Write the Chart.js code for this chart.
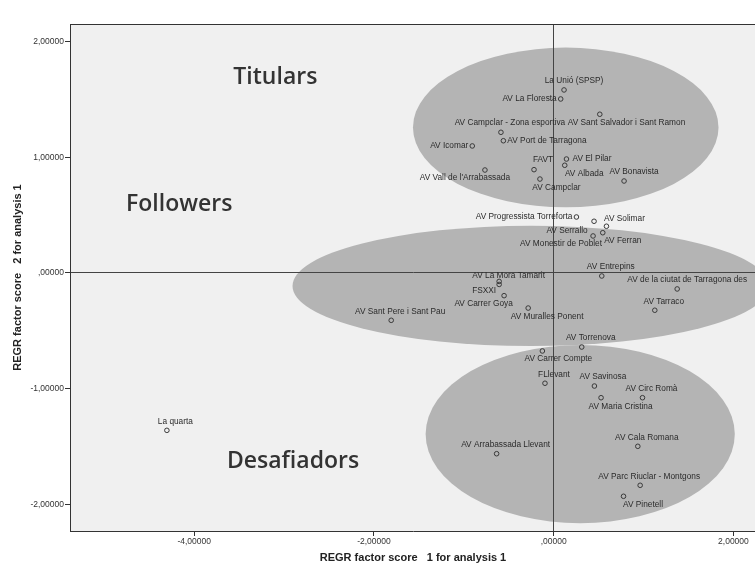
<!DOCTYPE html>
<html>
<head>
<meta charset="utf-8">
<script src="https://cdn.jsdelivr.net/npm/chart.js@4.4.0/dist/chart.umd.min.js"></script>
<style>
  html, body { margin: 0; padding: 0; background: #fff; overflow: hidden; }
  #wrap { width: 755px; height: 565px; overflow: hidden; }
</style>
</head>
<body>
<!-- canvas is a little wider than the window: the plot frame runs off the right edge, as in the original -->
<div id="wrap"><canvas id="scatterChart" width="761" height="565"></canvas></div>
<script>
// associations (point labels)
const names = [
    'La Unió (SPSP)', 'AV La Floresta', 'AV Sant Salvador i Sant Ramon', 'AV Campclar - Zona esportiva',
    'AV Port de Tarragona', 'AV Icomar', "AV Vall de l'Arrabassada", 'FAVT', 'AV El Pilar', 'AV Albada',
    'AV Campclar', 'AV Bonavista', 'AV Progressista Torreforta', 'AV Serrallo', 'AV Solimar', 'AV Ferran',
    'AV Monestir de Poblet', 'AV Entrepins', 'AV de la ciutat de Tarragona des', 'AV Tarraco',
    'AV La Mora Tamarit', 'FSXXI', 'AV Carrer Goya', 'AV Muralles Ponent', 'AV Sant Pere i Sant Pau',
    'AV Torrenova', 'AV Carrer Compte', 'FLlevant', 'AV Savinosa', 'AV Circ Romà', 'AV Maria Cristina',
    'AV Cala Romana', 'AV Arrabassada Llevant', 'AV Parc Riuclar - Montgons', 'AV Pinetell', 'La quarta'
];

// REGR factor score 1 for analysis 1
const score1 = [
    0.115, 0.078, 0.513, -0.587, -0.560, -0.906, -0.765, -0.219, 0.142, 0.123,
    -0.153, 0.783, 0.253, 0.449, 0.587, 0.546, 0.438, 0.535, 1.374, 1.125,
    -0.607, -0.607, -0.552, -0.284, -1.808, 0.312, -0.126, -0.097, 0.453, 0.988,
    0.527, 0.936, -0.635, 0.962, 0.777, -4.304
];

// REGR factor score 2 for analysis 1
const score2 = [
    1.582, 1.504, 1.372, 1.216, 1.143, 1.098, 0.890, 0.893, 0.985, 0.931,
    0.812, 0.795, 0.484, 0.447, 0.404, 0.348, 0.320, -0.026, -0.138, -0.322,
    -0.073, -0.099, -0.196, -0.303, -0.409, -0.640, -0.674, -0.953, -0.977, -1.078,
    -1.078, -1.498, -1.562, -1.835, -1.930, -1.360
];

const xTicks = [-4, -2, 0, 2];
const yTicks = [-2, -1, 0, 1, 2];

// group ellipses, in factor score units
const groupNames = ['Titulars', 'Followers', 'Desafiadors'];
const ellipseCx = [0.134, -0.256, 0.295];
const ellipseCy = [1.258, -0.112, -1.392];
const ellipseRx = [1.70, 2.65, 1.72];
const ellipseRy = [0.69, 0.52, 0.77];
const groupTitleX = [-3.097, -4.167, -2.900];
const groupTitleY = [1.694, 0.596, -1.631];

// label placement next to each marker: align, pixel offsets
const labelAlign = [
    'center', 'right', 'left', 'center', 'left', 'right', 'center', 'center', 'left', 'center',
    'center', 'center', 'right', 'center', 'center', 'center', 'center', 'center', 'center', 'center',
    'center', 'right', 'center', 'center', 'center', 'center', 'center', 'center', 'center', 'center',
    'center', 'center', 'center', 'center', 'center', 'center'
];
const labelDx = [
    10, -4, -32, 9, 4, -4, -20, 9, 6, 19.5,
    16.5, 10, -4, -27, 18, 20, -32, 9, 10, 9,
    9.5, -3, -20.5, 19, 9, 9, 16, 9, 8.5, 9,
    19.5, 9, 9, 9, 19.5, 8.5
];
const labelDy = [
    -9, 0, 8, -10, 0, 0, 8, -10, 0, 8,
    9, -9, 0, 9, -8, 8, 8, -9, -9, -9,
    -6, 6.5, 8, 9, -9, -9, 8, -9, -9, -9,
    8.5, -9, -9, -9, 8, -9
];

function formatScore(v) {
    if (Math.abs(v) < 1e-9) return ',00000';
    return v.toFixed(5).replace('.', ',');
}

const framePlugin = {
    id: 'frame',
    beforeDraw(chart) {
        const { ctx, chartArea: a, scales: { x, y } } = chart;
        ctx.save();
        ctx.fillStyle = '#f0f0f0';
        ctx.fillRect(a.left, a.top, a.right - a.left, a.bottom - a.top);
        ctx.beginPath();
        ctx.rect(a.left, a.top, a.right - a.left, a.bottom - a.top);
        ctx.clip();
        ctx.fillStyle = '#b4b4b4';
        ellipseCx.forEach((cx, i) => {
            const px = x.getPixelForValue(cx);
            const py = y.getPixelForValue(ellipseCy[i]);
            const rx = Math.abs(x.getPixelForValue(cx + ellipseRx[i]) - px);
            const ry = Math.abs(y.getPixelForValue(ellipseCy[i] + ellipseRy[i]) - py);
            ctx.beginPath();
            ctx.ellipse(px, py, rx, ry, 0, 0, Math.PI * 2);
            ctx.fill();
        });
        ctx.restore();
    },
    afterDatasetsDraw(chart) {
        const { ctx, scales: { x, y } } = chart;
        const pts = chart.getDatasetMeta(0).data;
        ctx.save();
        ctx.fillStyle = '#2b2b2b';
        ctx.font = '8.3px "Liberation Sans", Arial, sans-serif';
        ctx.textBaseline = 'middle';
        names.forEach((n, i) => {
            ctx.textAlign = labelAlign[i];
            ctx.fillText(n, pts[i].x + labelDx[i], pts[i].y + labelDy[i]);
        });

        ctx.fillStyle = '#333';
        ctx.font = '600 23px "Open Sans", Lato, sans-serif';
        ctx.textAlign = 'center';
        groupNames.forEach((g, i) => {
            ctx.fillText(g, x.getPixelForValue(groupTitleX[i]), y.getPixelForValue(groupTitleY[i]));
        });
        ctx.restore();
    },
    afterDraw(chart) {
        const { ctx, chartArea: a } = chart;
        ctx.save();
        ctx.strokeStyle = '#333';
        ctx.lineWidth = 1;
        ctx.beginPath();
        ctx.moveTo(a.left, a.top + 0.5);
        ctx.lineTo(a.right, a.top + 0.5);
        ctx.stroke();
        ctx.restore();
    }
};

const tickFont = { family: '"Liberation Sans", Arial, sans-serif', size: 8.5 };
const titleFont = { family: '"Liberation Sans", Arial, sans-serif', size: 11, weight: 'bold' };

const zeroLine = ctx => (ctx.tick && ctx.tick.value === 0) ? '#444' : 'rgba(0,0,0,0)';

new Chart(document.getElementById('scatterChart'), {
    type: 'scatter',
    data: {
        datasets: [{
            label: 'Associacions',
            data: score1.map((v, i) => ({ x: v, y: score2[i] })),
            pointStyle: 'circle',
            pointRadius: 2.3,
            pointBorderWidth: 1,
            pointBorderColor: '#3a3a3a',
            pointBackgroundColor: 'rgba(0,0,0,0)'
        }]
    },
    options: {
        responsive: false,
        animation: false,
        devicePixelRatio: 1,
        layout: { padding: { top: 24, left: 0, right: 0, bottom: 0 } },
        plugins: {
            legend: { display: false },
            tooltip: { enabled: false }
        },
        scales: {
            x: {
                type: 'linear',
                min: -5.382,
                max: 2.251,
                afterBuildTicks: s => { s.ticks = xTicks.map(v => ({ value: v })); },
                afterFit: s => { s.height = 34; },
                ticks: { font: tickFont, color: '#333', padding: 1, maxRotation: 0, callback: v => formatScore(v) },
                grid: { color: zeroLine, tickColor: '#333', tickLength: 5, lineWidth: 1 },
                border: { display: true, color: '#333', width: 1 },
                title: { display: true, text: 'REGR factor score   1 for analysis 1', font: titleFont, color: '#222', padding: 0 }
            },
            y: {
                type: 'linear',
                min: -2.230,
                max: 2.152,
                afterBuildTicks: s => { s.ticks = yTicks.map(v => ({ value: v })); },
                afterFit: s => { s.width = 70; },
                ticks: { font: tickFont, color: '#333', padding: 1, callback: v => formatScore(v) },
                grid: { color: zeroLine, tickColor: '#333', tickLength: 5, lineWidth: 1 },
                border: { display: true, color: '#333', width: 1 },
                title: { display: true, text: 'REGR factor score   2 for analysis 1', font: titleFont, color: '#222', padding: 11 }
            }
        }
    },
    plugins: [framePlugin]
});
</script>
</body>
</html>
